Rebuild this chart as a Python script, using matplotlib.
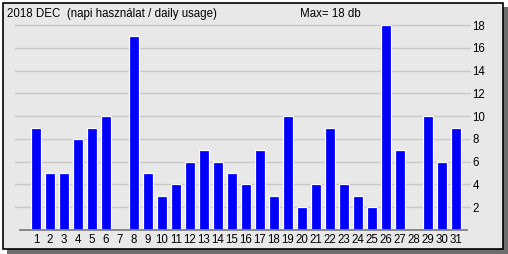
import matplotlib
matplotlib.use("Agg")
import matplotlib.pyplot as plt
from matplotlib.patches import Rectangle

days = list(range(1, 32))
usage = [9, 5, 5, 8, 9, 10, 0, 17, 5, 3, 4, 6, 7, 6, 5, 4, 7, 3, 10, 2, 4, 9, 4, 3, 2, 18, 7, 0, 10, 6, 9]
yticks = [2, 4, 6, 8, 10, 12, 14, 16, 18]
title = "2018 DEC  (napi használat / daily usage)"
max_label = "Max= 18 db"

W, H = 508, 254
fig = plt.figure(figsize=(W / 100, H / 100), dpi=100)
fig.patch.set_facecolor("white")
plt.rcParams['font.family'] = ['Liberation Sans', 'DejaVu Sans']

# background frame axes (pixel coords, y down)
bg = fig.add_axes([0, 0, 1, 1])
bg.set_xlim(0, W)
bg.set_ylim(H, 0)
bg.axis("off")
# shadow
bg.add_patch(Rectangle((7, 7), 501, 247, facecolor="#6e6e6e", edgecolor="none"))
bg.add_patch(Rectangle((3, 3), 500, 246, facecolor="#e8e8e8", edgecolor="black", linewidth=1.2))
bg.text(7, 14, title, fontsize=8.3, va="center", ha="left", color="black")
bg.text(330, 14, max_label, fontsize=8.3, va="center", ha="center", color="black")

# main axes
px_left, px_right, px_top, px_bot = 15, 471, 20, 230
ax = fig.add_axes([px_left / W, 1 - px_bot / H, (px_right - px_left) / W, (px_bot - px_top) / H])
ax.set_facecolor("none")
xl0 = 1 - (36 - px_left) / 14
xl1 = 1 + (px_right - 36) / 14
ax.set_xlim(xl0, xl1)
ppu = (230 - 25) / 18
ax.set_ylim(0, (230 - px_top) / ppu)
for s in ax.spines.values():
    s.set_visible(False)

for v in yticks:
    ax.axhline(v, color="#c8c8c8", linewidth=1.0, zorder=0)

ax.bar(days, usage, width=0.72, color="#0000ff", edgecolor="white", linewidth=0.9, zorder=2)

# baseline
ax.plot([1 - 16 / 14, 1 + (467 - 36) / 14], [0, 0], color="#808080", linewidth=1.3,
        clip_on=False, zorder=3)

ax.set_xticks(days)
ax.set_xticklabels([str(d) for d in days], fontsize=8.3)
ax.tick_params(axis="x", length=0, pad=3)
ax.yaxis.tick_right()
ax.set_yticks(yticks)
ax.set_yticklabels([str(v) for v in yticks], fontsize=8.3)
ax.tick_params(axis="y", length=0, pad=1)

fig.savefig("out.png", dpi=100, facecolor="white")
